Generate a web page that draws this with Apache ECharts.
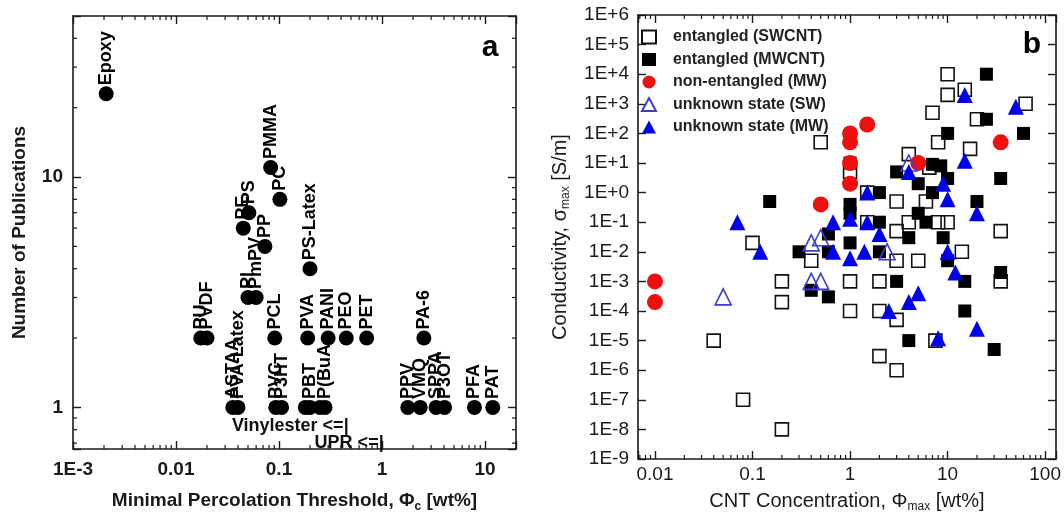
<!DOCTYPE html>
<html>
<head>
<meta charset="utf-8">
<title>CNT percolation threshold and conductivity</title>
<script src="https://cdn.jsdelivr.net/npm/echarts@6/dist/echarts.min.js"></script>
<style>
  html, body { margin: 0; padding: 0; background: #fff; }
  #chart { width: 1064px; height: 518px; }
</style>
</head>
<body>
<div id="chart"></div>
<script>
// ---- panel a: polymers, minimal percolation threshold [wt%] vs number of publications
var polymerNames = ['Epoxy', 'PU', 'PVDF', 'ASTAA', 'PVA-Latex', 'PI', 'PmPV', 'PE', 'PS', 'PP',
  'PMMA', 'PC', 'PVC', 'P3HT', 'PCL', 'PS-Latex', 'PVA', '', 'PBT', '', 'P(BuA', 'PANI',
  'PEO', 'PET', 'PA-6', 'PPV', 'VMQ', 'SPPA', 'P3OT', 'PFA', 'PAT'];
var polymerThreshold = [0.0021, 0.0174, 0.02, 0.0356, 0.04, 0.05, 0.06, 0.045, 0.051, 0.073,
  0.083, 0.102, 0.093, 0.106, 0.091, 0.2, 0.19, 0.18, 0.2, 0.25, 0.28, 0.3,
  0.45, 0.71, 2.55, 1.78, 2.35, 3.35, 4.05, 7.9, 11.9];
var polymerPublications = [23, 2, 2, 1, 1, 3, 3, 6, 7, 5,
  11, 8, 1, 1, 2, 4, 2, 1, 1, 1, 1, 2,
  2, 2, 2, 1, 1, 1, 1, 1, 1];

// upper limits written under the points
var limitNames = ['Vinylester <=|', 'UPR <=|'];
var limitThreshold = [0.48, 1.05];
var limitPublications = [0.83, 0.7];

// ---- panel b: [CNT concentration wt%, conductivity S/m]
var entangledSW = [[0.5, 50], [1, 5], [10, 1e4], [10, 2000], [15, 3000], [63, 1000], [7, 500],
  [20, 300], [8, 50], [17, 30], [4, 20], [6.5, 7], [3, 0.5], [1.5, 1], [6, 0.5], [1.5, 0.1],
  [3, 0.05], [4, 0.1], [8, 0.1], [10, 0.1], [35, 0.05], [14, 0.01], [0.1, 0.02], [0.4, 0.005],
  [3, 0.005], [5, 0.005], [0.2, 1e-3], [0.2, 2e-4], [1, 1e-3], [2, 1e-3], [1, 1e-4], [2, 1e-4],
  [3, 5e-5], [35, 1e-3], [7.5, 1e-5], [2, 3e-6], [3, 1e-6], [0.04, 1e-5], [0.08, 1e-7], [0.2, 1e-8]];
var entangledMW = [[0.15, 0.5], [0.3, 0.01], [0.4, 5e-4], [0.6, 3e-4], [0.6, 0.04], [0.6, 0.01],
  [1, 10], [1, 0.4], [1, 0.2], [1, 0.02], [2, 1], [2, 0.1], [2, 0.01], [3, 5], [3, 1e-3],
  [4, 0.03], [4, 1e-5], [5, 2], [5, 0.2], [6, 0.1], [7, 1], [7, 9], [8.5, 8], [10, 100], [10, 3],
  [9, 0.03], [10, 0.005], [15, 1e-3], [15, 1e-4], [20, 0.5], [25, 300], [25, 1e4], [30, 5e-6],
  [35, 3], [35, 0.002], [60, 100]];
var nonEntangledMW = [[0.01, 1e-3], [0.01, 2e-4], [0.5, 0.4], [1, 2], [1, 10], [1, 50], [1, 100],
  [1.5, 200], [5, 10], [35, 50]];
var unknownSW = [[0.05, 3e-4], [0.4, 0.02], [0.5, 0.03], [0.4, 1e-3], [0.5, 1e-3], [2.4, 0.01], [4, 10]];
var unknownMW = [[0.07, 0.1], [0.12, 0.01], [0.67, 0.1], [0.67, 0.01], [1, 0.13], [1, 0.006],
  [1.5, 1], [1.5, 0.1], [1.4, 0.01], [2, 0.04], [2.5, 1e-4], [4, 2e-4], [5, 4e-4], [4, 5],
  [8, 1.2e-5], [9, 2], [10, 0.6], [10, 0.01], [12, 0.002], [15, 12], [15, 2000], [20, 0.2],
  [20, 2.5e-5], [50, 800]];
var legendNames = ['entangled (SWCNT)', 'entangled (MWCNT)', 'non-entangled (MW)',
  'unknown state (SW)', 'unknown state (MW)'];

// tick labels, one per decade
var thresholdTickLabels = ['1E-3', '0.01', '0.1', '1', '10'];        // 10^-3 .. 10^1
var publicationTickLabels = ['1', '10'];                              // 10^0 .. 10^1
var concentrationTickLabels = ['0.01', '0.1', '1', '10', '100'];      // 10^-2 .. 10^2
var conductivityExponents = [-9, -8, -7, -6, -5, -4, -3, -2, -1, 0, 1, 2, 3, 4, 5, 6];

// axis ranges
var aX = [0.001, 20], aY = [0.66, 50];
var bX = [0.0067, 129], bY = [-9, 6];   // conductivity axis runs in decades

var INK = '#1a1a1a';
var FONT = 'Liberation Sans, Arial, sans-serif';
var MINOR = 4;

var myChart = echarts.init(document.getElementById('chart'));

// label for a log axis: only on whole decades
function decadeLabel(list, offset) {
  return function (v) {
    var e = Math.log10(v);
    var r = Math.round(e);
    if (Math.abs(e - r) > 1e-6) return '';
    return list[r + offset] || '';
  };
}

// 2..9 x 10^n between lo and hi
function minorValues(lo, hi) {
  var out = [];
  for (var e = Math.floor(Math.log10(lo)); e <= Math.ceil(Math.log10(hi)); e++) {
    for (var m = 2; m <= 9; m++) {
      var v = m * Math.pow(10, e);
      if (v > lo * 1.001 && v < hi * 0.999) out.push(v);
    }
  }
  return out;
}

// minor ticks on bottom and top edges
function xMinor(xi, yi, vals, yLo, yHi) {
  return {
    type: 'custom', xAxisIndex: xi, yAxisIndex: yi, silent: true,
    data: vals.map(function (v) { return [v, yLo]; }),
    renderItem: function (params, api) {
      var b = api.coord([api.value(0), yLo]);
      var t = api.coord([api.value(0), yHi]);
      return { type: 'group', children: [
        { type: 'line', shape: { x1: b[0], y1: b[1], x2: b[0], y2: b[1] - MINOR }, style: { stroke: INK, lineWidth: 1.2 } },
        { type: 'line', shape: { x1: t[0], y1: t[1], x2: t[0], y2: t[1] + MINOR }, style: { stroke: INK, lineWidth: 1.2 } }
      ] };
    }
  };
}

// minor ticks on left and right edges
function yMinor(xi, yi, vals, xLo, xHi) {
  return {
    type: 'custom', xAxisIndex: xi, yAxisIndex: yi, silent: true,
    data: vals.map(function (v) { return [xLo, v]; }),
    renderItem: function (params, api) {
      var l = api.coord([xLo, api.value(1)]);
      var r = api.coord([xHi, api.value(1)]);
      return { type: 'group', children: [
        { type: 'line', shape: { x1: l[0], y1: l[1], x2: l[0] + MINOR, y2: l[1] }, style: { stroke: INK, lineWidth: 1.2 } },
        { type: 'line', shape: { x1: r[0], y1: r[1], x2: r[0] - MINOR, y2: r[1] }, style: { stroke: INK, lineWidth: 1.2 } }
      ] };
    }
  };
}

// one side of the frame
function frameAxis(opts) {
  var base = {
    axisLine: { show: true, onZero: false, lineStyle: { color: INK, width: 1.6 } },
    axisTick: { show: true, inside: true, length: 8, lineStyle: { color: INK, width: 1.4 } },
    splitLine: { show: false },
    axisLabel: { show: false }
  };
  return Object.assign(base, opts);
}

var boldA = { fontFamily: FONT, fontWeight: 'bold', color: INK };
var plainB = { fontFamily: FONT, fontWeight: 'normal', color: INK };

var option = {
  animation: false,
  backgroundColor: '#fff',
  grid: [
    { left: 73, top: 16, width: 443, height: 436 },
    { left: 638, top: 15, width: 420, height: 450 }
  ],
  legend: {
    data: legendNames,
    orient: 'vertical',
    left: 636, top: 24,
    itemWidth: 14, itemHeight: 13, itemGap: 6.5,
    selectedMode: false,
    textStyle: { fontFamily: FONT, fontWeight: 'bold', fontSize: 16, color: '#222', lineHeight: 16, padding: [0, 0, 0, 12] }
  },
  xAxis: [
    frameAxis({
      type: 'log', gridIndex: 0, min: aX[0], max: aX[1], position: 'bottom',
      axisLabel: Object.assign({ show: true, fontSize: 19, margin: 11, formatter: decadeLabel(thresholdTickLabels, 3) }, boldA),
      name: 'Minimal Percolation Threshold, \u03A6{sub|c} [wt%]', nameLocation: 'middle', nameGap: 40,
      nameTextStyle: Object.assign({ fontSize: 19, rich: { sub: { fontSize: 12, fontWeight: 'bold', fontFamily: FONT, padding: [12, 0, 0, 0] } } }, boldA)
    }),
    frameAxis({ type: 'log', gridIndex: 0, min: aX[0], max: aX[1], position: 'top' }),
    frameAxis({
      type: 'log', gridIndex: 1, min: bX[0], max: bX[1], position: 'bottom',
      axisLabel: Object.assign({ show: true, fontSize: 19, margin: 6, formatter: decadeLabel(concentrationTickLabels, 2) }, plainB),
      name: 'CNT Concentration, \u03A6{sub|max} [wt%]', nameLocation: 'middle', nameGap: 30,
      nameTextStyle: Object.assign({ fontSize: 20, rich: { sub: { fontSize: 12, fontFamily: FONT, padding: [12, 0, 0, 0] } } }, plainB)
    }),
    frameAxis({ type: 'log', gridIndex: 1, min: bX[0], max: bX[1], position: 'top' })
  ],
  yAxis: [
    frameAxis({
      type: 'log', gridIndex: 0, min: aY[0], max: aY[1], position: 'left',
      axisLabel: Object.assign({ show: true, fontSize: 19, margin: 10, formatter: decadeLabel(publicationTickLabels, 0) }, boldA),
      name: 'Number of Publications', nameLocation: 'middle', nameGap: 44,
      nameTextStyle: Object.assign({ fontSize: 19 }, boldA)
    }),
    frameAxis({ type: 'log', gridIndex: 0, min: aY[0], max: aY[1], position: 'right' }),
    frameAxis({
      type: 'value', gridIndex: 1, min: bY[0], max: bY[1], interval: 1, position: 'left',
      axisLabel: Object.assign({
        show: true, fontSize: 19, margin: 9,
        formatter: function (v) {
          return conductivityExponents.indexOf(v) < 0 ? '' : '1E' + (v >= 0 ? '+' : '') + v;
        }
      }, plainB),
      name: 'Conductivity, \u03C3{sub|max} [S/m]', nameLocation: 'middle', nameGap: 66,
      nameTextStyle: Object.assign({ fontSize: 20, rich: { sub: { fontSize: 12, fontFamily: FONT, padding: [12, 0, 0, 0] } } }, plainB)
    }),
    frameAxis({ type: 'value', gridIndex: 1, min: bY[0], max: bY[1], interval: 1, position: 'right' })
  ],
  graphic: [
    { type: 'text', x: 490, y: 48, style: { text: 'a', fontSize: 30, fontWeight: 'bold', fontFamily: FONT, fill: '#000', align: 'center', verticalAlign: 'middle' } },
    { type: 'text', x: 1032, y: 45, style: { text: 'b', fontSize: 30, fontWeight: 'bold', fontFamily: FONT, fill: '#000', align: 'center', verticalAlign: 'middle' } }
  ],
  series: []
};

// panel a points with upright labels
option.series.push({
  type: 'scatter', xAxisIndex: 0, yAxisIndex: 0, symbol: 'circle', symbolSize: 15,
  itemStyle: { color: '#000', opacity: 1 },
  label: {
    show: true, formatter: '{b}', position: 'top', distance: 1, rotate: 90,
    align: 'left', verticalAlign: 'middle', fontSize: 18, fontWeight: 'bold', fontFamily: FONT, color: '#000'
  },
  data: polymerNames.map(function (n, i) { return { name: n, value: [polymerThreshold[i], polymerPublications[i]] }; })
});
option.series.push({
  type: 'scatter', xAxisIndex: 0, yAxisIndex: 0, symbolSize: 1,
  itemStyle: { color: 'rgba(0,0,0,0)', opacity: 1 },
  label: { show: true, formatter: '{b}', position: 'left', distance: 0, fontSize: 18, fontWeight: 'bold', fontFamily: FONT, color: '#111' },
  data: limitNames.map(function (n, i) { return { name: n, value: [limitThreshold[i], limitPublications[i]] }; })
});
option.series.push(xMinor(0, 0, minorValues(aX[0], aX[1]), aY[0], aY[1]));
option.series.push(yMinor(0, 0, minorValues(aY[0], aY[1]), aX[0], aX[1]));
option.series.push(xMinor(2, 2, minorValues(bX[0], bX[1]), bY[0], bY[1]));

// panel b scatter groups
function toDecades(list) {
  return list.map(function (p) { return [p[0], Math.log10(p[1])]; });
}
var groups = [
  { data: entangledSW, symbol: 'rect', size: 13, style: { color: 'rgba(0,0,0,0)', borderColor: '#111', borderWidth: 1.6, opacity: 1 } },
  { data: entangledMW, symbol: 'rect', size: 13, style: { color: '#000', opacity: 1 } },
  { data: nonEntangledMW, symbol: 'circle', size: 16, style: { color: '#ee0f0f', opacity: 1 } },
  { data: unknownSW, symbol: 'triangle', size: 16, style: { color: 'rgba(0,0,0,0)', borderColor: '#3d3dd6', borderWidth: 1.6, opacity: 1 } },
  { data: unknownMW, symbol: 'triangle', size: 16, style: { color: '#0000f0', opacity: 1 } }
];
groups.forEach(function (g, i) {
  option.series.push({
    name: legendNames[i], type: 'scatter', xAxisIndex: 2, yAxisIndex: 2,
    symbol: g.symbol, symbolSize: g.size, itemStyle: g.style,
    data: toDecades(g.data)
  });
});

myChart.setOption(option);
</script>
</body>
</html>
